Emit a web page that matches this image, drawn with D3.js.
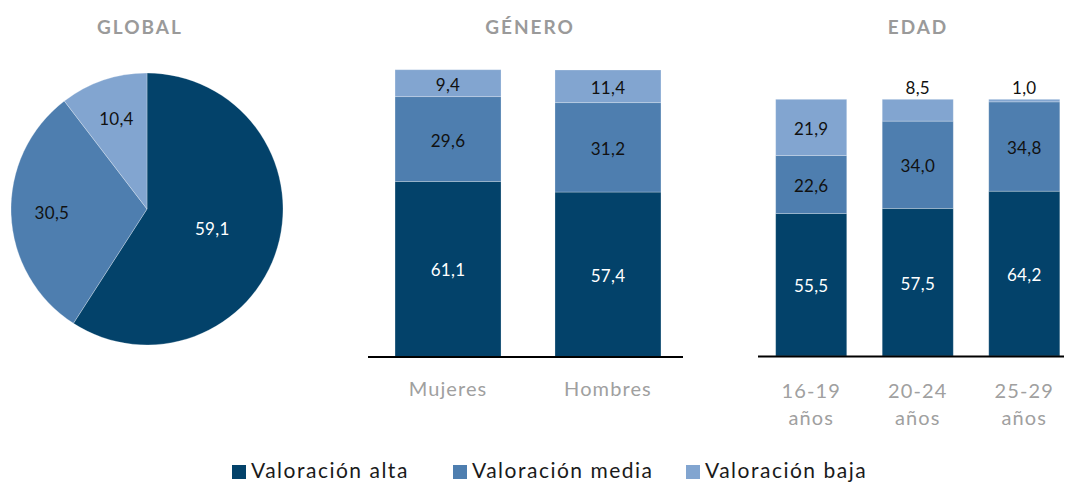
<!DOCTYPE html>
<html>
<head>
<meta charset="utf-8">
<script src="https://cdn.jsdelivr.net/npm/d3@7"></script>
<style>
  body { margin: 0; background: #fff; }
  svg { font-family: "Lato", "Open Sans", sans-serif; }
  .title { fill: #9a9a9a; font-weight: 700; font-size: 19px; letter-spacing: 2px; text-anchor: middle; }
  .cat { fill: #a0a0a0; font-size: 20px; letter-spacing: 1.1px; text-anchor: middle; }
  .val { font-size: 17px; letter-spacing: 0.3px; text-anchor: middle; dominant-baseline: central; }
  .leg { fill: #1a1a1a; font-size: 21px; letter-spacing: 1.5px; }
</style>
</head>
<body>
<svg id="chart" width="1065" height="482"></svg>
<script>
const series = ["Valoración alta", "Valoración media", "Valoración baja"];
const colors = ["#03426A", "#4E7EAF", "#82A5D0"];
const textColors = ["#ffffff", "#111111", "#111111"];

const globalValues = [59.1, 30.5, 10.4];

const generoCats = ["Mujeres", "Hombres"];
const generoAlta = [61.1, 57.4];
const generoMedia = [29.6, 31.2];
const generoBaja = [9.4, 11.4];

const edadCats = ["16-19 años", "20-24 años", "25-29 años"];
const edadAlta = [55.5, 57.5, 64.2];
const edadMedia = [22.6, 34.0, 34.8];
const edadBaja = [21.9, 8.5, 1.0];

const titles = ["GLOBAL", "GÉNERO", "EDAD"];

const svg = d3.select("#chart");
const fmt = v => d3.format(".1f")(v).replace(".", ",");

// titles
svg.selectAll(".title").data(titles).enter().append("text")
  .attr("class", "title")
  .attr("x", (d, i) => [140, 530, 918][i])
  .attr("y", 34)
  .text(d => d);

// ---- pie
const r = 136;
const pieG = svg.append("g").attr("transform", "translate(147,209)");
const pie = d3.pie().sort(null)(globalValues);
const arc = d3.arc().innerRadius(0).outerRadius(r);
pieG.selectAll("path").data(pie).enter().append("path")
  .attr("d", arc)
  .attr("fill", (d, i) => colors[i])
  .attr("stroke", "#ffffff")
  .attr("stroke-opacity", 0.35)
  .attr("stroke-width", 0.8);
pieG.selectAll("text").data(pie).enter().append("text")
  .attr("class", "val")
  .attr("transform", d => {
    const k = d.value > 50 ? 0.5 : 0.7;
    const c = d3.arc().innerRadius(0).outerRadius(2 * r * k).centroid(d);
    return `translate(${c})`;
  })
  .attr("fill", (d, i) => textColors[i])
  .text(d => fmt(d.value));

// ---- stacked bars
function stackedPanel(cats, alta, media, baja, xRange, yRange, axisEnd, pInner, pOuter, twoLine) {
  const rows = cats.map((c, i) => ({ cat: c, alta: alta[i], media: media[i], baja: baja[i] }));
  const keys = ["alta", "media", "baja"];
  const stacked = d3.stack().keys(keys)(rows);
  const x = d3.scaleBand().domain(cats).range(xRange).paddingInner(pInner).paddingOuter(pOuter);
  const y = d3.scaleLinear().domain([0, 100]).range(yRange);
  const g = svg.append("g");

  const layer = g.selectAll(".layer").data(stacked).enter().append("g")
    .attr("fill", (d, i) => colors[i]);
  layer.selectAll("rect").data(d => d).enter().append("rect")
    .attr("x", d => x(d.data.cat))
    .attr("width", x.bandwidth())
    .attr("y", d => y(d[1]))
    .attr("height", d => y(d[0]) - y(d[1]))
    .attr("stroke", "#ffffff")
    .attr("stroke-opacity", 0.3)
    .attr("stroke-width", 0.8);

  // small segments get their label above the bar
  const small = d => y(d[0]) - y(d[1]) < 25;
  stacked.forEach((s, si) => {
    g.selectAll(".v" + si).data(s).enter().append("text")
      .attr("class", "val")
      .attr("x", d => x(d.data.cat) + x.bandwidth() / 2)
      .attr("y", d => small(d) ? y(100) - 12 : (y(d[0]) + y(d[1])) / 2 + 1)
      .attr("fill", d => small(d) ? "#111111" : textColors[si])
      .text(d => fmt(d[1] - d[0]));
  });

  g.append("line")
    .attr("x1", xRange[0]).attr("x2", axisEnd)
    .attr("y1", y(0) + 0.5).attr("y2", y(0) + 0.5)
    .attr("stroke", "#000").attr("stroke-width", 2);

  cats.forEach(c => {
    const t = g.append("text").attr("class", "cat")
      .attr("x", x(c) + x.bandwidth() / 2)
      .attr("y", y(0) + (twoLine ? 42 : 39));
    if (twoLine) {
      const parts = c.split(" ");
      t.append("tspan").attr("x", x(c) + x.bandwidth() / 2).text(parts[0]);
      t.append("tspan").attr("x", x(c) + x.bandwidth() / 2).attr("dy", 27).text(parts[1]);
    } else {
      t.text(c);
    }
  });
}

stackedPanel(generoCats, generoAlta, generoMedia, generoBaja,
  [368, 688], [356.5, 70], 683, 0.3375, 0.169, false);
stackedPanel(edadCats, edadAlta, edadMedia, edadBaja,
  [758, 1077.5], [356, 99.3], 1064, 0.333, 0.166, true);

// ---- legend
const legX = [232, 453, 686];
const leg = svg.append("g");
series.forEach((s, i) => {
  leg.append("rect").attr("x", legX[i]).attr("y", 465).attr("width", 14).attr("height", 14).attr("fill", colors[i]);
  leg.append("text").attr("class", "leg").attr("x", legX[i] + 19).attr("y", 478).text(s);
});
</script>
</body>
</html>
